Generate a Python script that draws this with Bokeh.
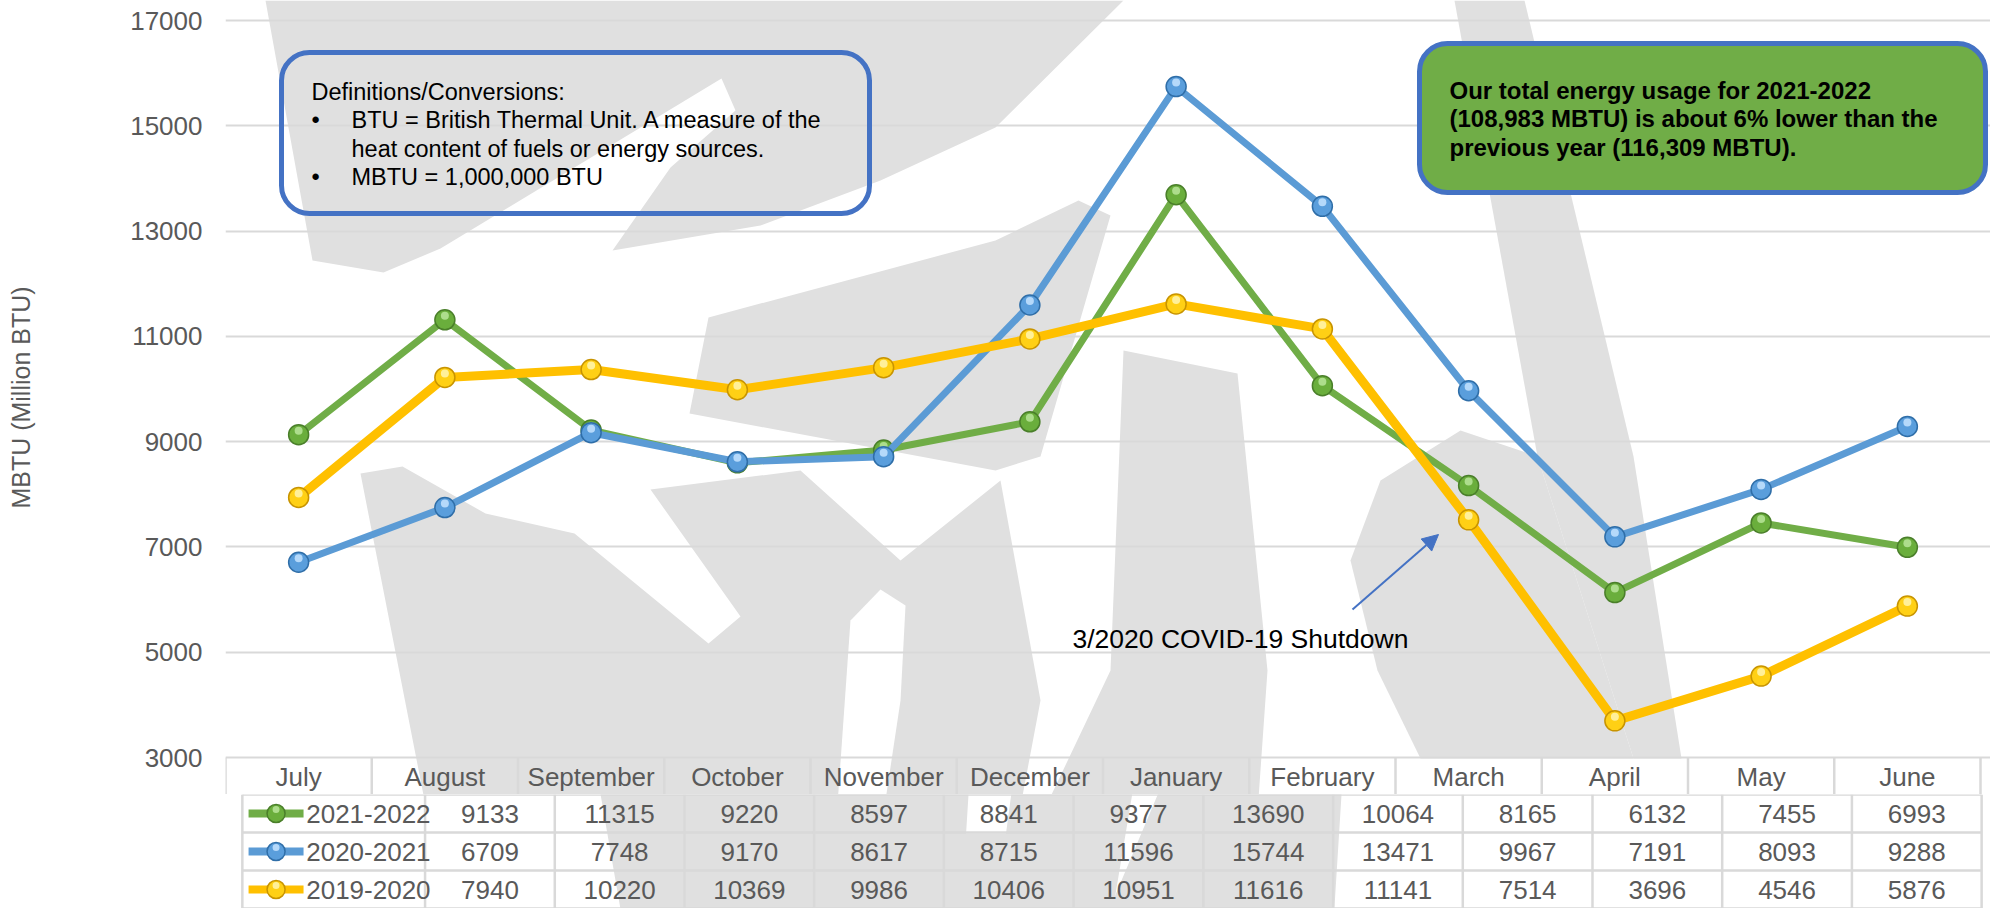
from bokeh.plotting import figure
from bokeh.models import Range1d, FixedTicker, BoxAnnotation, Label, Arrow, NormalHead
from bokeh.layouts import column
from bokeh.embed import file_html
from bokeh.resources import INLINE
from bokeh.core.properties import value

# ---------------- data ----------------
months = ["July", "August", "September", "October", "November", "December",
          "January", "February", "March", "April", "May", "June"]
series_names = ["2021-2022", "2020-2021", "2019-2020"]
values_2021_2022 = [9133, 11315, 9220, 8597, 8841, 9377, 13690, 10064, 8165, 6132, 7455, 6993]
values_2020_2021 = [6709, 7748, 9170, 8617, 8715, 11596, 15744, 13471, 9967, 7191, 8093, 9288]
values_2019_2020 = [7940, 10220, 10369, 9986, 10406, 10951, 11616, 11141, 7514, 3696, 4546, 5876]
y_ticks = [3000, 5000, 7000, 9000, 11000, 13000, 15000, 17000]
y_title = "MBTU (Million BTU)"
def_lines = ["Definitions/Conversions:",
             "BTU = British Thermal Unit. A measure of the",
             "heat content of fuels or energy sources.",
             "MBTU = 1,000,000 BTU"]
note_lines = ["Our total energy usage for 2021-2022",
              "(108,983 MBTU) is about 6% lower than the",
              "previous year (116,309 MBTU)."]
covid_note = "3/2020 COVID-19 Shutdown"

series_values = [values_2021_2022, values_2020_2021, values_2019_2020]

# ---------------- styles / layout ----------------
FONT = "Liberation Sans"
GREY_TXT = "#595959"
GRID = "#D9D9D9"
WM = "#E0E0E0"
line_colors = ["#70AD47", "#5B9BD5", "#FFC000"]
ball_fill = ["#6AAE3C", "#5A9EDC", "#FFD015"]
ball_edge = ["#4A7F2A", "#2F6EA8", "#C89400"]
ball_hi = ["#B9E59A", "#C6E3FF", "#FFF6B0"]
line_widths = [7, 7, 9]

W = 1990
CH = 794          # chart canvas height (includes the month header row)
TH = 114          # table canvas height (3 rows)
FRAME_L = 225
COL_PX = 146.25
Y3000_PX = 757
Y17000_PX = 20
K = (y_ticks[-1] - y_ticks[0]) / (Y3000_PX - Y17000_PX)   # data units per px
ROW_PX = TH / 3.0

y_start = y_ticks[0] - (CH - Y3000_PX) * K
y_end = y_ticks[-1] + Y17000_PX * K
x_end = (W - FRAME_L) / COL_PX
x_start_tab = -FRAME_L / COL_PX


def rx(px):
    """canvas pixel x -> data x (shared by chart and table)"""
    return (px - FRAME_L) / COL_PX


def ry(py):
    """canvas pixel y -> chart data y"""
    return y_ticks[0] + (Y3000_PX - py) * K


def ty(py):
    """canvas pixel y -> table data y"""
    return 3 - (py - CH) / ROW_PX


# decorative watermark shapes (canvas pixels)
watermark = [
    [(265, 0), (1123, 0), (995, 127), (880, 180), (760, 225), (612, 250), (670, 167),
     (735, 110), (721, 78), (440, 248), (383, 272), (312, 260)],
    [(708, 317), (995, 240), (1078, 200), (1110, 215), (1040, 456), (995, 470), (689, 413)],
    [(360, 473), (402, 466), (485, 513), (574, 533), (708, 643), (740, 616), (650, 489),
     (800, 470), (900, 560), (1000, 480), (1040, 700), (1000, 912), (446, 912)],
    [(1454, 0), (1524, 0), (1633, 456), (1681, 758), (1633, 758), (1537, 456)],
    [(1123, 350), (1237, 373), (1267, 670), (1250, 912), (995, 912), (1110, 670)],
    [(1380, 480), (1460, 430), (1537, 456), (1633, 758), (1420, 758), (1377, 670), (1350, 560)],
]
watermark_cut = [
    [(835, 833), (850, 620), (880, 589), (905, 605), (900, 700), (880, 833)],
]

x_pos = [i + 0.5 for i in range(len(months))]
bounds = list(range(len(months) + 1))

# ---------------- chart ----------------
p = figure(width=W, height=CH, x_range=Range1d(0, x_end), y_range=Range1d(y_start, y_end),
           output_backend="svg", toolbar_location=None, x_axis_location=None,
           min_border_left=FRAME_L, min_border_right=0, min_border_top=0, min_border_bottom=0)
p.outline_line_color = None
p.xgrid.visible = False
p.ygrid.ticker = FixedTicker(ticks=y_ticks)
p.ygrid.grid_line_color = GRID
p.ygrid.grid_line_width = 2
ax = p.yaxis[0]
ax.ticker = FixedTicker(ticks=y_ticks)
ax.axis_line_color = None
ax.major_tick_line_color = None
ax.minor_tick_line_color = None
ax.major_tick_out = 0
ax.major_tick_in = 0
ax.major_label_standoff = 23
ax.major_label_text_font = FONT
ax.major_label_text_font_size = "26px"
ax.major_label_text_color = GREY_TXT
ax.axis_label = y_title
ax.axis_label_text_font = FONT
ax.axis_label_text_font_size = "25px"
ax.axis_label_text_font_style = "normal"
ax.axis_label_text_color = GREY_TXT
ax.axis_label_standoff = 92


def draw_watermark(fig, yconv):
    for poly in watermark:
        fig.patch([rx(a) for a, b in poly], [yconv(b) for a, b in poly],
                  fill_color=WM, line_color=None, level="image")
    for poly in watermark_cut:
        fig.patch([rx(a) for a, b in poly], [yconv(b) for a, b in poly],
                  fill_color="white", line_color=None, level="image")


draw_watermark(p, ry)

# month header row + column lines in header
p.segment(x0=bounds, y0=[y_ticks[0]] * len(bounds), x1=bounds, y1=[y_start] * len(bounds),
          line_color=GRID, line_width=2.5)
p.text(x=x_pos, y=[ry((Y3000_PX + CH) / 2 + 1)] * len(months), text=months,
       text_font=value(FONT), text_font_size="26px", text_color=GREY_TXT,
       text_align="center", text_baseline="middle")

hi_off = 4 * K
for i, vals in enumerate(series_values):
    p.line(x_pos, vals, line_color=line_colors[i], line_width=line_widths[i], line_join="round")
    p.scatter(x_pos, vals, size=20, fill_color=ball_fill[i], line_color=ball_edge[i], line_width=1.5)
    p.scatter(x_pos, [v + hi_off for v in vals], size=8, fill_color=ball_hi[i], line_color=None,
              fill_alpha=0.85)

# definitions box
p.add_layout(BoxAnnotation(left=rx(281), right=rx(869), top=ry(52), bottom=ry(213),
                           fill_alpha=0, line_color="#4472C4", line_alpha=1, line_width=5,
                           border_radius=28))
def_y = [91, 119, 148, 176]
p.add_layout(Label(x=rx(311), y=ry(def_y[0]), text=def_lines[0], text_font=FONT,
                   text_font_size="23.5px", text_color="black", text_baseline="middle"))
for j, (txt, yy) in enumerate(zip(def_lines[1:], def_y[1:])):
    if j != 1:
        p.add_layout(Label(x=rx(311), y=ry(yy), text="\u2022", text_font=FONT,
                           text_font_size="23.5px", text_color="black", text_baseline="middle"))
    p.add_layout(Label(x=rx(351), y=ry(yy), text=txt, text_font=FONT,
                       text_font_size="23.5px", text_color="black", text_baseline="middle"))

# green summary box
p.add_layout(BoxAnnotation(left=rx(1419), right=rx(1985), top=ry(43), bottom=ry(192),
                           fill_color="#70AD47", fill_alpha=1, line_color="#4472C4",
                           line_alpha=1, line_width=5, border_radius=28))
for txt, yy in zip(note_lines, [90, 118, 147]):
    p.add_layout(Label(x=rx(1449), y=ry(yy), text=txt, text_font=FONT, text_font_size="24px",
                       text_font_style="bold", text_color="black", text_baseline="middle"))

# covid annotation
p.add_layout(Arrow(end=NormalHead(size=16, fill_color="#4472C4", line_color="#4472C4"),
                   x_start=rx(1352), y_start=ry(609), x_end=rx(1438), y_end=ry(534),
                   line_color="#4472C4", line_width=2))
p.add_layout(Label(x=rx(1072), y=ry(638), text=covid_note, text_font=FONT,
                   text_font_size="26.5px", text_color="black", text_baseline="middle"))

# ---------------- data table ----------------
t = figure(width=W, height=TH, x_range=Range1d(x_start_tab, x_end), y_range=Range1d(0, 3),
           output_backend="svg", toolbar_location=None, x_axis_location=None,
           y_axis_location=None, min_border=0)
t.outline_line_color = None
t.xgrid.visible = False
t.ygrid.visible = False

draw_watermark(t, ty)

left_edge = rx(19)
t.segment(x0=[left_edge] * 4, y0=[3, 2, 1, 0], x1=[len(months)] * 4, y1=[3, 2, 1, 0],
          line_color=GRID, line_width=2.5)
vx = [left_edge] + bounds
t.segment(x0=vx, y0=[0] * len(vx), x1=vx, y1=[3] * len(vx), line_color=GRID, line_width=2.5)

for i, (name, vals) in enumerate(zip(series_names, series_values)):
    yc = 2.5 - i
    t.segment(x0=[rx(26)], y0=[yc], x1=[rx(88)], y1=[yc], line_color=line_colors[i],
              line_width=8)
    t.scatter([rx(57)], [yc], size=18, fill_color=ball_fill[i], line_color=ball_edge[i],
              line_width=1.5)
    t.scatter([rx(57)], [yc + 4 / ROW_PX], size=7, fill_color=ball_hi[i], line_color=None,
              fill_alpha=0.85)
    t.text(x=[rx(91)], y=[yc], text=[name], text_font=value(FONT), text_font_size="26px",
           text_color=GREY_TXT, text_align="left", text_baseline="middle")
    t.text(x=x_pos, y=[yc] * len(vals), text=[str(v) for v in vals], text_font=value(FONT),
           text_font_size="26px", text_color=GREY_TXT, text_align="center",
           text_baseline="middle")

layout = column(p, t, spacing=0)
open("out.html", "w").write(file_html(layout, INLINE))
